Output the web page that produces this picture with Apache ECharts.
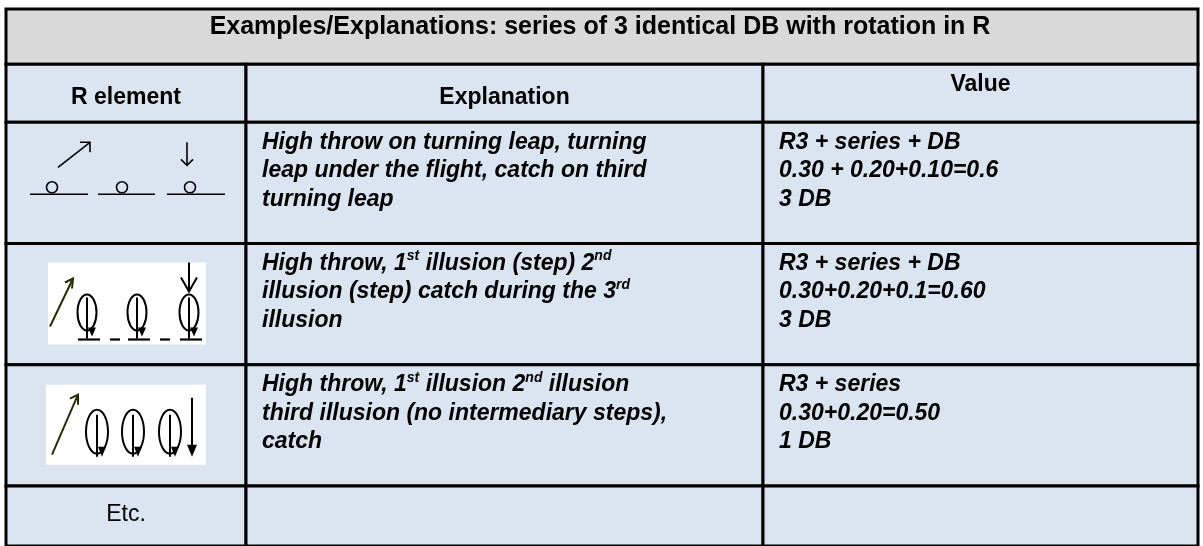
<!DOCTYPE html>
<html><head><meta charset="utf-8">
<script src="https://cdn.jsdelivr.net/npm/echarts@6/dist/echarts.min.js"></script>
<style>html,body{margin:0;padding:0;background:#fff}#c{width:1203px;height:546px}</style>
</head><body><div id="c"></div>
<script>
// ---- content ----
const title = 'Examples/Explanations: series of 3 identical DB with rotation in R';
const headers = ['R element', 'Explanation', 'Value'];
const elementLabels = ['', '', '', 'Etc.'];
const elementSymbols = ['turningLeaps', 'illusionsWithSteps', 'illusionsNoSteps', ''];
const explanations = [
  ['High throw on turning leap, turning', 'leap under the flight, catch on third', 'turning leap'],
  ['High throw, 1{sup|st} illusion (step) 2{sup|nd}', 'illusion (step) catch during the 3{sup|rd}', 'illusion'],
  ['High throw, 1{sup|st} illusion 2{sup|nd} illusion', 'third illusion (no intermediary steps),', 'catch'],
  []
];
const values = [
  ['R3 + series + DB', '0.30 + 0.20+0.10=0.6', '3 DB'],
  ['R3 + series + DB', '0.30+0.20+0.1=0.60', '3 DB'],
  ['R3 + series', '0.30+0.20=0.50', '1 DB'],
  []
];

// ---- layout (axis units) ----
const colEdges = [0, 240, 757, 1192];
const rowEdges = [0, 56, 115, 238, 361, 484, 545];
const headerDy = [33, 33, 20];

const FONT = '"Liberation Sans", Arial, sans-serif';
const cells = [];
cells.push({ value: [colEdges[0], colEdges[3], rowEdges[0], rowEdges[1], -1, 0] });
for (let r = 0; r < 5; r++) {
  for (let c = 0; c < 3; c++) {
    cells.push({ value: [colEdges[c], colEdges[c + 1], rowEdges[r + 1], rowEdges[r + 2], r, c] });
  }
}
const symbolItems = [];
elementSymbols.forEach((s, i) => { if (s) symbolItems.push({ value: [colEdges[0], rowEdges[i + 2], i] }); });

function txt(text, x, y, font, align) {
  return {
    type: 'text',
    style: {
      text: text, x: x, y: y, fill: '#000', font: font,
      textAlign: align || 'left', textVerticalAlign: 'middle',
      lineHeight: 28,
      rich: { sup: { fontSize: 14, fontWeight: 'bold', fontStyle: 'italic', fontFamily: FONT, lineHeight: 14, verticalAlign: 'top', fill: '#000' } }
    }
  };
}

function renderCell(params, api) {
  const a = api.coord([api.value(0), api.value(2)]);
  const b = api.coord([api.value(1), api.value(3)]);
  const r = api.value(4), c = api.value(5);
  const L = a[0], T = a[1], W = b[0] - a[0], H = b[1] - a[1];
  const ch = [{ type: 'rect', shape: { x: L, y: T, width: W, height: H },
    style: { fill: r < 0 ? '#d9d9d9' : '#dbe5f1', stroke: '#000', lineWidth: 3 } }];
  if (r < 0) {
    ch.push(txt(title, L + W / 2 - 2, T + 18, 'bold 25px ' + FONT, 'center'));
  } else if (r === 0) {
    ch.push(txt(headers[c], L + W / 2, T + headerDy[c], 'bold 23px ' + FONT, 'center'));
  } else {
    const k = r - 1;
    if (c === 0) {
      if (elementLabels[k]) ch.push(txt(elementLabels[k], L + W / 2, T + 29, '23px ' + FONT, 'center'));
    } else {
      const lines = (c === 1 ? explanations[k] : values[k]) || [];
      lines.forEach((s, i) => ch.push(txt(s, L + 16, T + 20 + i * 28.5, 'italic bold 23px ' + FONT, 'left')));
    }
  }
  return { type: 'group', children: ch };
}

function ln(ox, oy, x1, y1, x2, y2, w, col) {
  return { type: 'line', shape: { x1: ox + x1, y1: oy + y1, x2: ox + x2, y2: oy + y2 }, style: { stroke: col || '#000', lineWidth: w || 2 } };
}
function pl(ox, oy, pts, w, col) {
  return { type: 'polyline', shape: { points: pts.map(p => [ox + p[0], oy + p[1]]) }, style: { stroke: col || '#000', lineWidth: w || 2, fill: null } };
}
function tri(ox, oy, pts, col) {
  return { type: 'polygon', shape: { points: pts.map(p => [ox + p[0], oy + p[1]]) }, style: { fill: col || '#000' } };
}
function ell(ox, oy, cx, cy, rx, ry, w) {
  const k = 0.5523, X = ox + cx, Y = oy + cy;
  const d = 'M' + (X - rx) + ' ' + Y +
    ' C' + (X - rx) + ' ' + (Y - ry * k) + ' ' + (X - rx * k) + ' ' + (Y - ry) + ' ' + X + ' ' + (Y - ry) +
    ' C' + (X + rx * k) + ' ' + (Y - ry) + ' ' + (X + rx) + ' ' + (Y - ry * k) + ' ' + (X + rx) + ' ' + Y +
    ' C' + (X + rx) + ' ' + (Y + ry * k) + ' ' + (X + rx * k) + ' ' + (Y + ry) + ' ' + X + ' ' + (Y + ry) +
    ' C' + (X - rx * k) + ' ' + (Y + ry) + ' ' + (X - rx) + ' ' + (Y + ry * k) + ' ' + (X - rx) + ' ' + Y + ' Z';
  return { type: 'path', shape: { pathData: d }, style: { fill: 'none', stroke: '#000', lineWidth: w || 2 } };
}

function renderSymbol(params, api) {
  const o = api.coord([api.value(0), api.value(1)]);
  const ox = o[0], oy = o[1];
  const kind = elementSymbols[api.value(2)];
  const ch = [];
  if (kind === 'turningLeaps') {
    [[24, 82], [92, 149], [161, 219]].forEach(s => ch.push(ln(ox, oy, s[0], 72, s[1], 72, 1.6)));
    [46, 116, 184].forEach(cx => ch.push({ type: 'circle', shape: { cx: ox + cx, cy: oy + 65, r: 5.5 }, style: { fill: 'none', stroke: '#000', lineWidth: 1.6 } }));
    ch.push(ln(ox, oy, 52, 45, 84, 20, 1.6));
    ch.push(pl(ox, oy, [[74, 20], [84, 20], [84, 30]], 1.6));
    ch.push(ln(ox, oy, 181, 20, 181, 43, 1.6));
    ch.push(pl(ox, oy, [[175, 37], [181, 43], [187, 37]], 1.6));
  } else if (kind === 'illusionsWithSteps') {
    ch.push({ type: 'rect', shape: { x: ox + 42, y: oy + 19, width: 158, height: 82 }, style: { fill: '#fff' } });
    ch.push(ln(ox, oy, 44, 83, 67, 35, 2, '#2a2a05'));
    ch.push(pl(ox, oy, [[59, 39], [67, 35], [66, 45]], 2, '#2a2a05'));
    [81, 131, 183].forEach(cx => {
      ch.push(ell(ox, oy, cx, 69, 9.5, 18, 2));
      ch.push(ln(ox, oy, cx, 54, cx, 95, 2));
      ch.push(tri(ox, oy, [[cx + 1, 84], [cx + 9, 84], [cx + 5, 93]]));
      ch.push(ln(ox, oy, cx - 9, 96, cx + 13, 96, 2.2));
    });
    ch.push(ln(ox, oy, 104, 96, 114, 96, 2.2));
    ch.push(ln(ox, oy, 154, 96, 164, 96, 2.2));
    ch.push(ln(ox, oy, 183, 19, 183, 48, 2));
    ch.push(pl(ox, oy, [[175, 34], [183, 48], [191, 34]], 2));
  } else if (kind === 'illusionsNoSteps') {
    ch.push({ type: 'rect', shape: { x: ox + 40, y: oy + 20, width: 160, height: 80 }, style: { fill: '#fff' } });
    ch.push(ln(ox, oy, 46, 90, 72, 30, 2, '#2a2a05'));
    ch.push(pl(ox, oy, [[64, 34], [72, 30], [72, 40]], 2, '#2a2a05'));
    [91, 127, 164].forEach(cx => {
      ch.push(ell(ox, oy, cx, 67, 11, 22, 2));
      ch.push(ln(ox, oy, cx, 50, cx, 92, 2));
      ch.push(tri(ox, oy, [[cx + 1, 82], [cx + 9, 82], [cx + 5, 92]]));
    });
    ch.push(ln(ox, oy, 186, 33, 186, 88, 2));
    ch.push(tri(ox, oy, [[181, 80], [191, 80], [186, 92]]));
  }
  return { type: 'group', children: ch };
}

const chart = echarts.init(document.getElementById('c'), null, { renderer: 'canvas' });
chart.setOption({
  animation: false,
  backgroundColor: '#fff',
  grid: { left: 6, top: 9, width: 1192, height: 545 },
  xAxis: { type: 'value', min: 0, max: 1192, show: false },
  yAxis: { type: 'value', min: 0, max: 545, inverse: true, show: false },
  series: [
    { type: 'custom', coordinateSystem: 'cartesian2d', renderItem: renderCell, data: cells, silent: true, z: 1 },
    { type: 'custom', coordinateSystem: 'cartesian2d', renderItem: renderSymbol, data: symbolItems, silent: true, z: 2 }
  ]
});
</script></body></html>
